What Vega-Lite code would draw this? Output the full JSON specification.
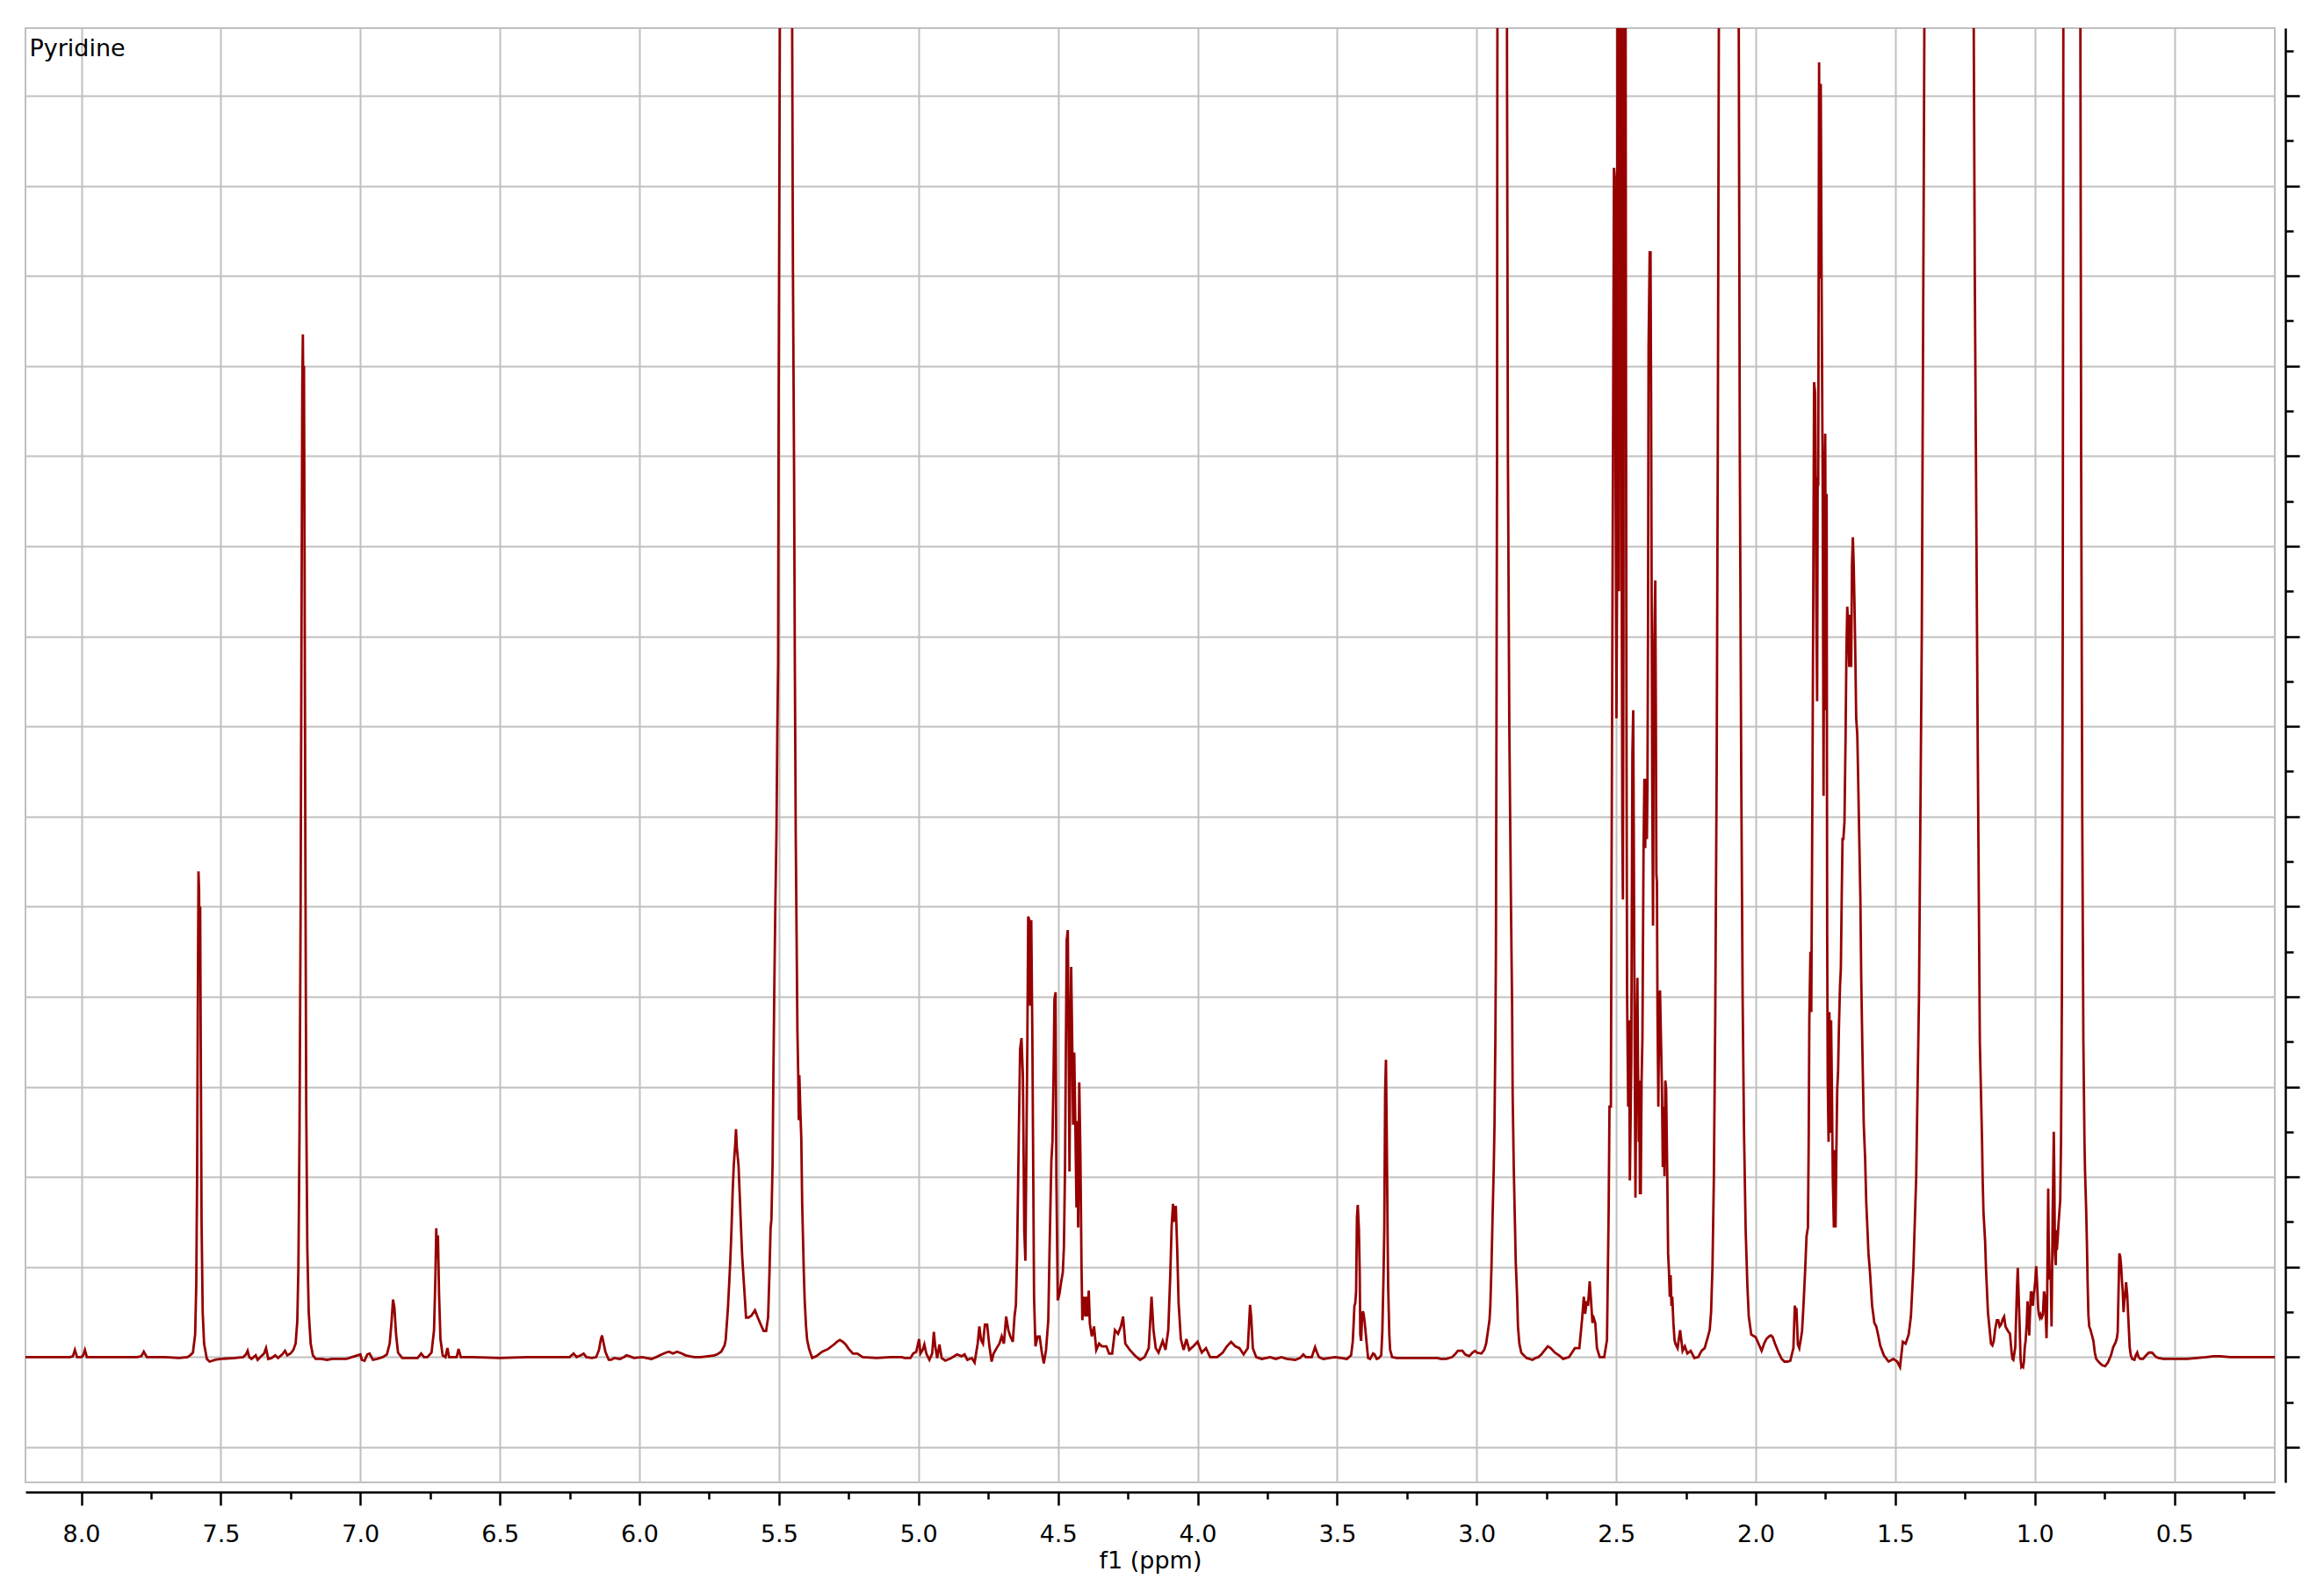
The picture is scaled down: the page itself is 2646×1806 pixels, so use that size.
{
"$schema": "https://vega.github.io/schema/vega-lite/v6.json",
"width": 2561, "height": 1656,
"autosize": {"type": "none"},
"padding": {"left": 29, "top": 32, "right": 56, "bottom": 118},
"background": "white",
"config": {"view": {"stroke": "#c0c0c0", "strokeWidth": 2}, "font": "DejaVu Sans"},
"layer": [
{"data": {"values": [
{"p":8.2,"v":0},{"p":8.1,"v":0},{"p":8.04,"v":0},{"p":8.03,"v":0.01},{"p":8.023,"v":0.08},{"p":8.015,"v":0},{"p":8.0,"v":0},{"p":7.993,"v":0.02},{"p":7.987,"v":0.08},{"p":7.98,"v":0},{"p":7.9,"v":0},{"p":7.8,"v":0},{"p":7.785,"v":0.01},{"p":7.776,"v":0.06},{"p":7.765,"v":0},{"p":7.7,"v":0},{"p":7.65,"v":-0.01},{"p":7.62,"v":0},{"p":7.61,"v":0.02},
{"p":7.6,"v":0.05},{"p":7.592,"v":0.25},{"p":7.588,"v":0.8},{"p":7.585,"v":2.0},{"p":7.582,"v":4.2},{"p":7.58,"v":5.39},{"p":7.578,"v":5.2},{"p":7.576,"v":4.4},{"p":7.574,"v":5.0},{"p":7.572,"v":3.5},{"p":7.569,"v":1.5},{"p":7.565,"v":0.5},{"p":7.56,"v":0.15},{"p":7.55,"v":-0.02},{"p":7.54,"v":-0.05},{"p":7.52,"v":-0.03},{"p":7.5,"v":-0.02},{"p":7.45,"v":-0.01},{"p":7.42,"v":0},{"p":7.41,"v":0.03},{"p":7.404,"v":0.07},{"p":7.398,"v":0},{"p":7.39,"v":-0.02},{"p":7.375,"v":0.02},{"p":7.368,"v":-0.03},{"p":7.355,"v":0.01},{"p":7.345,"v":0.04},{"p":7.338,"v":0.1},{"p":7.33,"v":-0.02},{"p":7.318,"v":-0.01},{"p":7.305,"v":0.02},{"p":7.295,"v":-0.01},{"p":7.28,"v":0.03},{"p":7.27,"v":0.07},{"p":7.262,"v":0.02},{"p":7.25,"v":0.04},{"p":7.24,"v":0.08},{"p":7.232,"v":0.15},{"p":7.226,"v":0.4},
{"p":7.222,"v":1.0},{"p":7.218,"v":2.5},{"p":7.214,"v":5.0},{"p":7.211,"v":8.0},{"p":7.208,"v":10.8},{"p":7.206,"v":11.35},{"p":7.204,"v":10.5},{"p":7.202,"v":11.0},{"p":7.2,"v":9.0},{"p":7.197,"v":5.5},{"p":7.194,"v":2.8},{"p":7.19,"v":1.2},{"p":7.185,"v":0.5},{"p":7.178,"v":0.15},{"p":7.17,"v":0.02},{"p":7.16,"v":-0.02},{"p":7.14,"v":-0.02},{"p":7.12,"v":-0.03},{"p":7.1,"v":-0.02},{"p":7.05,"v":-0.02},{"p":7.0,"v":0.03},{"p":6.995,"v":-0.03},{"p":6.985,"v":-0.04},{"p":6.975,"v":0.03},{"p":6.967,"v":0.04},{"p":6.955,"v":-0.03},{"p":6.94,"v":-0.02},{"p":6.92,"v":0},{"p":6.905,"v":0.03},{"p":6.895,"v":0.15},{"p":6.888,"v":0.4},{"p":6.883,"v":0.64},{"p":6.878,"v":0.55},{"p":6.872,"v":0.25},{"p":6.865,"v":0.05},{"p":6.85,"v":-0.01},{"p":6.82,"v":-0.01},{"p":6.795,"v":-0.01},{"p":6.782,"v":0.04},{"p":6.772,"v":0},{"p":6.76,"v":0},{"p":6.745,"v":0.05},{"p":6.736,"v":0.3},{"p":6.731,"v":0.9},{"p":6.728,"v":1.43},{"p":6.725,"v":1.1},{"p":6.722,"v":1.35},{"p":6.718,"v":0.7},{"p":6.713,"v":0.2},{"p":6.705,"v":0.02},{"p":6.695,"v":0},{"p":6.688,"v":0.1},{"p":6.682,"v":0},{"p":6.67,"v":0},{"p":6.655,"v":0},{"p":6.648,"v":0.09},{"p":6.64,"v":0},{"p":6.6,"v":0},{"p":6.5,"v":-0.01},{"p":6.4,"v":0},{"p":6.3,"v":0},{"p":6.25,"v":0},{"p":6.236,"v":0.04},{"p":6.225,"v":0},{"p":6.21,"v":0.02},{"p":6.2,"v":0.04},{"p":6.19,"v":0},{"p":6.17,"v":-0.01},{"p":6.155,"v":0},{"p":6.145,"v":0.08},{"p":6.138,"v":0.2},{"p":6.134,"v":0.24},{"p":6.13,"v":0.18},{"p":6.122,"v":0.06},{"p":6.11,"v":-0.03},{"p":6.101,"v":-0.03},{"p":6.09,"v":-0.01},{"p":6.07,"v":-0.02},{"p":6.055,"v":0},{"p":6.047,"v":0.02},{"p":6.035,"v":0.01},{"p":6.02,"v":-0.01},{"p":5.99,"v":0},{"p":5.975,"v":-0.01},{"p":5.957,"v":-0.02},{"p":5.94,"v":0},{"p":5.92,"v":0.03},{"p":5.905,"v":0.05},{"p":5.894,"v":0.06},{"p":5.88,"v":0.04},{"p":5.865,"v":0.06},{"p":5.848,"v":0.04},{"p":5.835,"v":0.02},{"p":5.82,"v":0.01},{"p":5.803,"v":0},{"p":5.78,"v":0},{"p":5.754,"v":0.01},{"p":5.731,"v":0.02},{"p":5.722,"v":0.03},{"p":5.707,"v":0.06},{"p":5.695,"v":0.13},{"p":5.691,"v":0.19},{"p":5.683,"v":0.54},{"p":5.678,"v":0.84},{"p":5.674,"v":1.1},{"p":5.67,"v":1.43},{"p":5.666,"v":1.83},{"p":5.662,"v":2.13},{"p":5.657,"v":2.35},{"p":5.654,"v":2.53},{"p":5.651,"v":2.33},{"p":5.648,"v":2.23},{"p":5.645,"v":2.13},{"p":5.641,"v":1.83},{"p":5.636,"v":1.43},{"p":5.632,"v":1.13},{"p":5.628,"v":0.93},{"p":5.623,"v":0.69},{"p":5.618,"v":0.44},{"p":5.609,"v":0.44},{"p":5.599,"v":0.46},{"p":5.586,"v":0.52},{"p":5.576,"v":0.44},{"p":5.565,"v":0.36},{"p":5.555,"v":0.29},{"p":5.546,"v":0.29},{"p":5.539,"v":0.44},{"p":5.534,"v":0.94},{"p":5.53,"v":1.43},{"p":5.527,"v":1.53},{"p":5.523,"v":2.13},{"p":5.52,"v":3.13},{"p":5.517,"v":4.02},{"p":5.513,"v":5.02},{"p":5.509,"v":5.82},{"p":5.506,"v":6.91},{"p":5.503,"v":7.71},{"p":5.501,"v":10.7},{"p":5.499,"v":12.6},{"p":5.497,"v":14.6},{"p":5.495,"v":17},{"p":5.47,"v":20},{"p":5.455,"v":17},{"p":5.45,"v":12.1},{"p":5.446,"v":9.9},{"p":5.443,"v":7.61},{"p":5.44,"v":5.82},{"p":5.437,"v":4.72},{"p":5.434,"v":3.63},{"p":5.431,"v":3.13},{"p":5.429,"v":2.63},{"p":5.427,"v":3.13},{"p":5.423,"v":2.7},{"p":5.42,"v":2.43},{"p":5.417,"v":1.73},{"p":5.414,"v":1.33},{"p":5.411,"v":0.94},{"p":5.408,"v":0.64},{"p":5.403,"v":0.34},{"p":5.399,"v":0.19},{"p":5.392,"v":0.09},{"p":5.381,"v":-0.01},{"p":5.366,"v":0.01},{"p":5.345,"v":0.06},{"p":5.324,"v":0.09},{"p":5.303,"v":0.14},{"p":5.292,"v":0.17},{"p":5.282,"v":0.19},{"p":5.271,"v":0.17},{"p":5.261,"v":0.14},{"p":5.25,"v":0.09},{"p":5.235,"v":0.04},{"p":5.219,"v":0.04},{"p":5.2,"v":0},{"p":5.15,"v":-0.01},{"p":5.1,"v":0},{"p":5.06,"v":0},
{"p":5.05,"v":-0.01},{"p":5.029,"v":-0.01},{"p":5.019,"v":0.04},{"p":5.008,"v":0.06},{"p":4.998,"v":0.2},{"p":4.993,"v":0.04},{"p":4.985,"v":0.08},{"p":4.979,"v":0.14},{"p":4.972,"v":0.04},{"p":4.961,"v":-0.03},{"p":4.951,"v":0.04},{"p":4.945,"v":0.28},{"p":4.94,"v":0.12},{"p":4.933,"v":-0.01},{"p":4.925,"v":0.14},{"p":4.917,"v":-0.01},{"p":4.904,"v":-0.04},{"p":4.883,"v":-0.01},{"p":4.862,"v":0.03},{"p":4.846,"v":0.01},{"p":4.835,"v":0.03},{"p":4.825,"v":-0.03},{"p":4.809,"v":-0.01},{"p":4.799,"v":-0.06},{"p":4.788,"v":0.15},{"p":4.782,"v":0.34},{"p":4.776,"v":0.19},{"p":4.769,"v":0.15},{"p":4.762,"v":0.36},{"p":4.754,"v":0.36},{"p":4.746,"v":0.12},{"p":4.738,"v":-0.05},{"p":4.731,"v":0.04},{"p":4.72,"v":0.1},{"p":4.71,"v":0.15},{"p":4.702,"v":0.23},{"p":4.694,"v":0.15},{"p":4.686,"v":0.45},{"p":4.678,"v":0.3},{"p":4.671,"v":0.23},{"p":4.662,"v":0.17},{"p":4.656,"v":0.45},{"p":4.651,"v":0.58},{"p":4.647,"v":1.1},{"p":4.643,"v":1.95},{"p":4.639,"v":2.8},{"p":4.636,"v":3.42},{"p":4.631,"v":3.54},{"p":4.626,"v":3.13},{"p":4.623,"v":2.1},{"p":4.621,"v":1.4},{"p":4.617,"v":1.07},{"p":4.614,"v":2.1},{"p":4.61,"v":3.5},{"p":4.607,"v":4.89},{"p":4.603,"v":4.85},{"p":4.6,"v":3.9},{"p":4.596,"v":4.85},{"p":4.592,"v":3.53},{"p":4.589,"v":2.1},{"p":4.586,"v":0.67},{"p":4.581,"v":0.12},{"p":4.573,"v":0.23},{"p":4.566,"v":0.23},{"p":4.558,"v":0.05},{"p":4.551,"v":-0.07},{"p":4.543,"v":0.08},{"p":4.535,"v":0.41},{"p":4.53,"v":1.26},{"p":4.524,"v":2.17},{"p":4.52,"v":2.4},{"p":4.516,"v":3.16},{"p":4.513,"v":3.97},{"p":4.509,"v":4.05},{"p":4.506,"v":1.99},{"p":4.501,"v":0.63},{"p":4.495,"v":0.7},{"p":4.488,"v":0.85},{"p":4.483,"v":0.94},{"p":4.479,"v":1.22},{"p":4.475,"v":2.1},{"p":4.472,"v":3.42},{"p":4.469,"v":4.63},{"p":4.465,"v":4.74},{"p":4.462,"v":3.46},{"p":4.459,"v":2.06},{"p":4.456,"v":3.46},{"p":4.453,"v":4.33},{"p":4.449,"v":3.46},{"p":4.446,"v":2.58},{"p":4.442,"v":3.38},{"p":4.438,"v":2.58},{"p":4.434,"v":1.66},{"p":4.431,"v":2.62},{"p":4.428,"v":1.44},{"p":4.424,"v":3.05},{"p":4.42,"v":2.28},{"p":4.416,"v":1.03},{"p":4.413,"v":0.41},{"p":4.407,"v":0.67},{"p":4.402,"v":0.45},{"p":4.398,"v":0.67},{"p":4.394,"v":0.45},{"p":4.39,"v":0.74},{"p":4.386,"v":0.37},{"p":4.379,"v":0.23},{"p":4.371,"v":0.34},{"p":4.363,"v":0.08},{"p":4.353,"v":0.15},{"p":4.343,"v":0.12},{"p":4.327,"v":0.12},{"p":4.317,"v":0.04},{"p":4.306,"v":0.04},{"p":4.296,"v":0.3},{"p":4.285,"v":0.26},{"p":4.275,"v":0.34},{"p":4.267,"v":0.45},{"p":4.259,"v":0.15},{"p":4.243,"v":0.08},{"p":4.222,"v":0.01},{"p":4.206,"v":-0.03},
{"p":4.19,"v":0},{"p":4.175,"v":0.1},{"p":4.165,"v":0.67},{"p":4.158,"v":0.3},{"p":4.15,"v":0.1},{"p":4.14,"v":0.05},{"p":4.125,"v":0.18},{"p":4.115,"v":0.08},{"p":4.105,"v":0.3},{"p":4.098,"v":0.9},{"p":4.093,"v":1.45},{"p":4.088,"v":1.7},{"p":4.083,"v":1.5},{"p":4.078,"v":1.68},{"p":4.073,"v":1.2},{"p":4.068,"v":0.6},{"p":4.06,"v":0.2},{"p":4.05,"v":0.08},{"p":4.04,"v":0.2},{"p":4.03,"v":0.08},{"p":4.015,"v":0.12},{"p":4.0,"v":0.17},{"p":3.985,"v":0.05},{"p":3.97,"v":0.1},{"p":3.955,"v":0},{"p":3.93,"v":0},{"p":3.91,"v":0.05},{"p":3.895,"v":0.12},{"p":3.88,"v":0.17},{"p":3.865,"v":0.12},{"p":3.85,"v":0.1},{"p":3.835,"v":0.03},{"p":3.82,"v":0.1},{"p":3.812,"v":0.58},{"p":3.808,"v":0.45},{"p":3.802,"v":0.1},{"p":3.79,"v":0},{"p":3.77,"v":-0.02},{"p":3.74,"v":0},{"p":3.72,"v":-0.02},{"p":3.7,"v":0},{"p":3.68,"v":-0.02},{"p":3.65,"v":-0.03},{"p":3.633,"v":-0.01},{"p":3.621,"v":0.03},{"p":3.612,"v":0},{"p":3.591,"v":0},{"p":3.579,"v":0.11},{"p":3.572,"v":0.05},{"p":3.565,"v":0},{"p":3.549,"v":-0.02},{"p":3.528,"v":-0.01},{"p":3.507,"v":0},{"p":3.486,"v":-0.01},{"p":3.465,"v":-0.02},{"p":3.45,"v":0.02},{"p":3.444,"v":0.17},{"p":3.441,"v":0.36},{"p":3.438,"v":0.57},{"p":3.435,"v":0.6},{"p":3.432,"v":0.73},{"p":3.429,"v":1.55},{"p":3.426,"v":1.69},{"p":3.422,"v":1.42},{"p":3.419,"v":0.93},{"p":3.417,"v":0.25},{"p":3.414,"v":0.18},{"p":3.411,"v":0.41},{"p":3.408,"v":0.51},{"p":3.405,"v":0.48},{"p":3.401,"v":0.38},{"p":3.398,"v":0.28},{"p":3.395,"v":0.18},{"p":3.392,"v":0.08},{"p":3.389,"v":-0.01},{"p":3.382,"v":-0.02},{"p":3.371,"v":0.04},{"p":3.366,"v":0.03},{"p":3.358,"v":-0.02},{"p":3.35,"v":-0.01},{"p":3.342,"v":0.02},{"p":3.338,"v":0.28},{"p":3.334,"v":0.86},{"p":3.331,"v":1.42},{"p":3.328,"v":2.94},{"p":3.325,"v":3.3},{"p":3.322,"v":2.42},{"p":3.319,"v":1.32},{"p":3.317,"v":0.77},{"p":3.313,"v":0.25},{"p":3.31,"v":0.08},{"p":3.303,"v":0},{"p":3.287,"v":-0.01},{"p":3.256,"v":-0.01},{"p":3.214,"v":-0.01},{"p":3.172,"v":-0.01},{"p":3.14,"v":-0.01},{"p":3.13,"v":-0.02},{"p":3.109,"v":-0.02},{"p":3.088,"v":0},{"p":3.078,"v":0.03},{"p":3.067,"v":0.07},{"p":3.051,"v":0.07},{"p":3.041,"v":0.03},{"p":3.027,"v":0.01},{"p":3.015,"v":0.05},{"p":3.006,"v":0.07},{"p":2.999,"v":0.05},{"p":2.983,"v":0.04},{"p":2.973,"v":0.08},{"p":2.966,"v":0.15},{"p":2.96,"v":0.28},{"p":2.954,"v":0.41},{"p":2.951,"v":0.57},{"p":2.947,"v":0.99},{"p":2.943,"v":1.55},{"p":2.939,"v":2.07},{"p":2.936,"v":2.59},{"p":2.933,"v":3.53},{"p":2.931,"v":4.5},{"p":2.929,"v":7},{"p":2.927,"v":10},{"p":2.926,"v":14},{"p":2.924,"v":18},{"p":2.905,"v":20},{"p":2.893,"v":18},{"p":2.891,"v":14},{"p":2.888,"v":10},{"p":2.883,"v":7},{"p":2.877,"v":5},{"p":2.873,"v":3.9},{"p":2.871,"v":2.91},{"p":2.867,"v":2.1},{"p":2.863,"v":1.51},{"p":2.86,"v":1.06},{"p":2.855,"v":0.67},{"p":2.852,"v":0.34},{"p":2.847,"v":0.15},{"p":2.84,"v":0.05},{"p":2.831,"v":0.02},{"p":2.821,"v":-0.01},{"p":2.81,"v":-0.02},{"p":2.8,"v":-0.03},{"p":2.789,"v":-0.01},{"p":2.779,"v":0},{"p":2.768,"v":0.03},{"p":2.758,"v":0.07},{"p":2.745,"v":0.12},{"p":2.735,"v":0.1},{"p":2.72,"v":0.05},{"p":2.705,"v":0.02},
{"p":2.69,"v":-0.02},{"p":2.669,"v":0},{"p":2.648,"v":0.1},{"p":2.632,"v":0.1},{"p":2.622,"v":0.43},{"p":2.616,"v":0.67},{"p":2.611,"v":0.48},{"p":2.606,"v":0.62},{"p":2.601,"v":0.57},{"p":2.595,"v":0.84},{"p":2.59,"v":0.62},{"p":2.585,"v":0.38},{"p":2.58,"v":0.43},{"p":2.575,"v":0.38},{"p":2.569,"v":0.1},{"p":2.559,"v":0},{"p":2.543,"v":0},{"p":2.533,"v":0.19},{"p":2.527,"v":1.63},{"p":2.524,"v":2.78},{"p":2.519,"v":2.78},{"p":2.517,"v":4.98},{"p":2.512,"v":9.58},{"p":2.508,"v":13.2},{"p":2.505,"v":13.1},{"p":2.502,"v":9.58},{"p":2.499,"v":7.09},{"p":2.497,"v":8.62},{"p":2.495,"v":17},{"p":2.492,"v":17},{"p":2.49,"v":8.5},{"p":2.485,"v":17},{"p":2.482,"v":17},{"p":2.48,"v":8.43},{"p":2.478,"v":5.84},{"p":2.476,"v":5.08},{"p":2.474,"v":8.05},{"p":2.472,"v":17},{"p":2.467,"v":17},{"p":2.465,"v":11.1},{"p":2.463,"v":6.8},{"p":2.461,"v":4.02},{"p":2.457,"v":2.78},{"p":2.454,"v":3.74},{"p":2.451,"v":1.96},{"p":2.446,"v":3.26},{"p":2.444,"v":4.98},{"p":2.442,"v":6.7},{"p":2.439,"v":7.18},{"p":2.437,"v":5.84},{"p":2.434,"v":3.54},{"p":2.431,"v":1.77},{"p":2.428,"v":3.26},{"p":2.424,"v":4.21},{"p":2.422,"v":3.26},{"p":2.419,"v":2.39},{"p":2.417,"v":3.07},{"p":2.415,"v":1.82},{"p":2.412,"v":1.82},{"p":2.409,"v":3.07},{"p":2.406,"v":3.54},{"p":2.402,"v":5.65},{"p":2.399,"v":6.42},{"p":2.396,"v":5.65},{"p":2.393,"v":6.42},{"p":2.39,"v":5.75},{"p":2.388,"v":6.32},{"p":2.386,"v":8.05},{"p":2.384,"v":11.2},{"p":2.38,"v":12.26},{"p":2.377,"v":12.26},{"p":2.375,"v":10.7},{"p":2.373,"v":8.5},{"p":2.371,"v":6.42},{"p":2.368,"v":4.79},{"p":2.366,"v":6.9},{"p":2.364,"v":7.85},{"p":2.36,"v":8.62},{"p":2.358,"v":7.28},{"p":2.356,"v":5.36},{"p":2.354,"v":5.27},{"p":2.352,"v":3.83},{"p":2.349,"v":2.78},{"p":2.346,"v":3.93},{"p":2.343,"v":4.07},{"p":2.339,"v":3.45},{"p":2.336,"v":2.97},{"p":2.333,"v":2.11},{"p":2.33,"v":2.78},{"p":2.327,"v":2.01},{"p":2.324,"v":3.07},{"p":2.321,"v":2.97},{"p":2.317,"v":2.01},{"p":2.314,"v":1.15},{"p":2.311,"v":0.96},{"p":2.308,"v":0.67},{"p":2.305,"v":0.91},{"p":2.302,"v":0.57},{"p":2.299,"v":0.67},{"p":2.295,"v":0.38},{"p":2.291,"v":0.19},{"p":2.288,"v":0.15},{"p":2.28,"v":0.1},{"p":2.271,"v":0.3},{"p":2.262,"v":0.07},{"p":2.254,"v":0.12},{"p":2.245,"v":0.04},{"p":2.233,"v":0.07},{"p":2.22,"v":-0.01},{"p":2.206,"v":0},{"p":2.194,"v":0.07},{"p":2.183,"v":0.1},{"p":2.172,"v":0.22},{"p":2.165,"v":0.3},{"p":2.16,"v":0.5},{"p":2.155,"v":1.0},{"p":2.15,"v":2.0},{"p":2.145,"v":3.8},{"p":2.14,"v":6.5},{"p":2.136,"v":10},{"p":2.132,"v":15},{"p":2.129,"v":19},{"p":2.1,"v":21},{"p":2.065,"v":19},{"p":2.061,"v":15},{"p":2.057,"v":10},{"p":2.052,"v":6.5},{"p":2.047,"v":4},{"p":2.042,"v":2.5},{"p":2.036,"v":1.4},{"p":2.03,"v":0.8},{"p":2.025,"v":0.45},{"p":2.016,"v":0.25},{"p":2.0,"v":0.22},{"p":1.99,"v":0.15},{"p":1.979,"v":0.07},{"p":1.97,"v":0.15},{"p":1.962,"v":0.2},{"p":1.952,"v":0.23},{"p":1.945,"v":0.24},{"p":1.939,"v":0.22},{"p":1.931,"v":0.15},{"p":1.918,"v":0.05},{"p":1.907,"v":-0.02},{"p":1.897,"v":-0.05},{"p":1.886,"v":-0.05},{"p":1.876,"v":-0.04},{"p":1.865,"v":0.1},{"p":1.86,"v":0.57},{"p":1.857,"v":0.53},{"p":1.854,"v":0.53},{"p":1.849,"v":0.14},{"p":1.844,"v":0.1},{"p":1.839,"v":0.19},{"p":1.834,"v":0.29},{"p":1.829,"v":0.57},{"p":1.823,"v":0.96},{"p":1.818,"v":1.34},{"p":1.813,"v":1.44},{"p":1.81,"v":2.49},{"p":1.808,"v":3.74},{"p":1.804,"v":4.5},{"p":1.801,"v":3.83},{"p":1.797,"v":6.23},{"p":1.794,"v":8.33},{"p":1.791,"v":10.82},{"p":1.787,"v":10.7},{"p":1.783,"v":8.33},{"p":1.78,"v":7.28},{"p":1.778,"v":9.77},{"p":1.776,"v":9.67},{"p":1.773,"v":14.37},{"p":1.77,"v":11.97},{"p":1.767,"v":14.13},{"p":1.764,"v":11.97},{"p":1.76,"v":9.58},{"p":1.757,"v":6.23},{"p":1.754,"v":9.58},{"p":1.751,"v":10.25},{"p":1.748,"v":7.18},{"p":1.746,"v":9.58},{"p":1.744,"v":4.69},{"p":1.742,"v":3.07},{"p":1.739,"v":2.39},{"p":1.736,"v":3.83},{"p":1.733,"v":2.49},{"p":1.73,"v":3.74},{"p":1.727,"v":2.97},{"p":1.724,"v":2.01},{"p":1.72,"v":1.44},{"p":1.717,"v":2.3},{"p":1.714,"v":1.44},{"p":1.711,"v":2.3},{"p":1.708,"v":2.97},{"p":1.705,"v":3.16},{"p":1.702,"v":3.64},{"p":1.698,"v":4.12},{"p":1.695,"v":4.31},{"p":1.692,"v":5.08},{"p":1.689,"v":5.75},{"p":1.686,"v":5.75},{"p":1.682,"v":5.94},{"p":1.678,"v":6.9},{"p":1.675,"v":7.85},{"p":1.672,"v":8.33},{"p":1.668,"v":8.05},{"p":1.665,"v":7.66},{"p":1.662,"v":8.24},{"p":1.658,"v":7.66},{"p":1.655,"v":8.81},{"p":1.652,"v":9.1},{"p":1.649,"v":8.81},{"p":1.646,"v":8.33},{"p":1.643,"v":7.76},{"p":1.64,"v":7.09},{"p":1.636,"v":6.9},{"p":1.633,"v":6.42},{"p":1.629,"v":5.75},{"p":1.625,"v":5.08},{"p":1.622,"v":4.21},{"p":1.618,"v":3.45},{"p":1.613,"v":2.59},{"p":1.608,"v":2.2},{"p":1.604,"v":1.72},{"p":1.6,"v":1.44},{"p":1.596,"v":1.15},{"p":1.591,"v":0.96},{"p":1.587,"v":0.77},{"p":1.583,"v":0.57},{"p":1.579,"v":0.48},{"p":1.575,"v":0.38},{"p":1.568,"v":0.34},{"p":1.561,"v":0.24},{"p":1.554,"v":0.13},{"p":1.541,"v":0.02},{"p":1.524,"v":-0.05},{"p":1.507,"v":-0.02},{"p":1.493,"v":-0.05},{"p":1.483,"v":-0.11},{"p":1.473,"v":0.17},{"p":1.463,"v":0.15},{"p":1.452,"v":0.25},{"p":1.444,"v":0.45},{"p":1.435,"v":1.0},{"p":1.425,"v":2.0},{"p":1.415,"v":4.0},{"p":1.405,"v":8},{"p":1.398,"v":13},{"p":1.393,"v":17},{"p":1.3,"v":20},{"p":1.222,"v":17},{"p":1.215,"v":12},{"p":1.205,"v":7},{"p":1.197,"v":3.5},{"p":1.189,"v":2.39},{"p":1.187,"v":2.0},{"p":1.184,"v":1.61},{"p":1.178,"v":1.28},{"p":1.175,"v":0.99},{"p":1.172,"v":0.78},{"p":1.168,"v":0.5},{"p":1.163,"v":0.34},{"p":1.157,"v":0.15},{"p":1.152,"v":0.13},{"p":1.147,"v":0.18},{"p":1.142,"v":0.31},{"p":1.136,"v":0.41},{"p":1.131,"v":0.41},{"p":1.126,"v":0.34},{"p":1.121,"v":0.36},{"p":1.115,"v":0.42},{"p":1.11,"v":0.45},{"p":1.105,"v":0.34},{"p":1.1,"v":0.31},{"p":1.094,"v":0.28},{"p":1.089,"v":0.26},{"p":1.086,"v":0.15},{"p":1.083,"v":0.05},{"p":1.08,"v":-0.02},{"p":1.077,"v":-0.03},{"p":1.073,"v":0.05},{"p":1.07,"v":0.11},{"p":1.067,"v":0.44},{"p":1.064,"v":0.76},{"p":1.061,"v":0.99},{"p":1.058,"v":0.7},{"p":1.055,"v":0.41},{"p":1.051,"v":-0.02},{"p":1.048,"v":-0.11},{"p":1.045,"v":-0.1},{"p":1.042,"v":-0.11},{"p":1.039,"v":-0.05},{"p":1.036,"v":0.11},{"p":1.033,"v":0.18},{"p":1.029,"v":0.37},{"p":1.026,"v":0.62},{"p":1.023,"v":0.44},{"p":1.02,"v":0.24},{"p":1.017,"v":0.5},{"p":1.014,"v":0.73},{"p":1.01,"v":0.7},{"p":1.007,"v":0.57},{"p":1.004,"v":0.7},{"p":1.001,"v":0.76},{"p":0.998,"v":0.86},{"p":0.995,"v":1.01},{"p":0.992,"v":0.83},{"p":0.988,"v":0.54},{"p":0.985,"v":0.47},{"p":0.982,"v":0.44},{"p":0.979,"v":0.47},{"p":0.975,"v":0.44},{"p":0.971,"v":0.47},{"p":0.967,"v":0.73},{"p":0.964,"v":0.67},{"p":0.961,"v":0.47},{"p":0.958,"v":0.21},{"p":0.956,"v":0.57},{"p":0.954,"v":1.22},{"p":0.952,"v":1.87},{"p":0.95,"v":1.25},{"p":0.946,"v":0.86},{"p":0.943,"v":0.96},{"p":0.94,"v":0.34},{"p":0.938,"v":0.93},{"p":0.936,"v":1.61},{"p":0.934,"v":2.0},{"p":0.932,"v":2.5},{"p":0.93,"v":2.0},{"p":0.928,"v":1.15},{"p":0.925,"v":1.02},{"p":0.923,"v":1.41},{"p":0.921,"v":1.19},{"p":0.918,"v":1.32},{"p":0.915,"v":1.48},{"p":0.912,"v":1.61},{"p":0.909,"v":1.74},{"p":0.906,"v":2.4},{"p":0.903,"v":4},{"p":0.9,"v":8},{"p":0.897,"v":17},{"p":0.87,"v":20},{"p":0.838,"v":17},{"p":0.834,"v":10},{"p":0.83,"v":6},{"p":0.826,"v":3.5},{"p":0.822,"v":2.39},{"p":0.82,"v":2.06},{"p":0.816,"v":1.64},{"p":0.813,"v":1.22},{"p":0.811,"v":0.86},{"p":0.808,"v":0.47},{"p":0.805,"v":0.34},{"p":0.801,"v":0.31},{"p":0.795,"v":0.24},{"p":0.79,"v":0.18},{"p":0.785,"v":0.05},{"p":0.78,"v":-0.02},{"p":0.769,"v":-0.06},{"p":0.759,"v":-0.09},{"p":0.748,"v":-0.1},{"p":0.738,"v":-0.06},{"p":0.727,"v":0.02},{"p":0.719,"v":0.11},{"p":0.711,"v":0.16},{"p":0.706,"v":0.21},{"p":0.703,"v":0.28},{"p":0.7,"v":0.73},{"p":0.697,"v":1.15},{"p":0.694,"v":1.12},{"p":0.691,"v":1.02},{"p":0.688,"v":0.86},{"p":0.685,"v":0.73},{"p":0.682,"v":0.5},{"p":0.679,"v":0.63},{"p":0.676,"v":0.7},{"p":0.673,"v":0.83},{"p":0.669,"v":0.7},{"p":0.666,"v":0.5},{"p":0.663,"v":0.31},{"p":0.66,"v":0.11},{"p":0.656,"v":0.02},{"p":0.651,"v":-0.02},{"p":0.643,"v":-0.03},{"p":0.638,"v":0.02},{"p":0.633,"v":0.05},{"p":0.628,"v":0},{"p":0.622,"v":-0.02},{"p":0.612,"v":-0.02},{"p":0.601,"v":0.02},{"p":0.591,"v":0.05},{"p":0.58,"v":0.05},{"p":0.565,"v":0},{"p":0.556,"v":-0.01},{"p":0.54,"v":-0.02},{"p":0.505,"v":-0.02},{"p":0.454,"v":-0.02},{"p":0.42,"v":-0.01},{"p":0.386,"v":0},{"p":0.36,"v":0.01},{"p":0.335,"v":0.01},{"p":0.3,"v":0},{"p":0.25,"v":0},{"p":0.2,"v":0},{"p":0.14,"v":0}
]},
"mark": {"type": "line", "color": "#960000", "strokeWidth": 2.8, "clip": true, "interpolate": "linear"},
"encoding": {
"x": {"field": "p", "type": "quantitative",
 "scale": {"domain": [0.14, 8.2], "reverse": true, "nice": false, "zero": false},
 "axis": {"title": "f1 (ppm)",
  "values": [0.25,0.5,0.75,1.0,1.25,1.5,1.75,2.0,2.25,2.5,2.75,3.0,3.25,3.5,3.75,4.0,4.25,4.5,4.75,5.0,5.25,5.5,5.75,6.0,6.25,6.5,6.75,7.0,7.25,7.5,7.75,8.0],
  "labelExpr": "datum.value % 0.5 === 0 ? format(datum.value, '.1f') : ''",
  "offset": 11, "domainColor": "black", "domainWidth": 2.5,
  "tickColor": "black", "tickWidth": 2.5,
  "tickSize": {"condition": {"test": "datum.value % 0.5 === 0", "value": 15}, "value": 8},
  "grid": true, "gridColor": "#c0c0c0", "gridWidth": 2,
  "gridOpacity": {"condition": {"test": "datum.value % 0.5 === 0", "value": 1}, "value": 0},
  "labelFont": "DejaVu Sans", "labelFontSize": 27, "labelColor": "black", "labelPadding": 20,
  "labelFlush": false, "labelOverlap": false, "labelBound": false,
  "titleFont": "DejaVu Sans", "titleFontSize": 27, "titleFontWeight": "normal", "titleColor": "black", "titlePadding": 4}},
"y": {"field": "v", "type": "quantitative",
 "scale": {"domain": [-1.39, 14.75], "nice": false, "zero": false},
 "axis": {"orient": "right", "title": null, "labels": false,
  "values": [-1,-0.5,0,0.5,1,1.5,2,2.5,3,3.5,4,4.5,5,5.5,6,6.5,7,7.5,8,8.5,9,9.5,10,10.5,11,11.5,12,12.5,13,13.5,14,14.5],
  "offset": 12, "domainColor": "black", "domainWidth": 2.5,
  "tickColor": "black", "tickWidth": 2.5,
  "tickSize": {"condition": {"test": "datum.value % 1 === 0", "value": 16}, "value": 9},
  "grid": true, "gridColor": "#c0c0c0", "gridWidth": 2,
  "gridOpacity": {"condition": {"test": "datum.value % 1 === 0", "value": 1}, "value": 0}}}
}},
{"data": {"values": [{"label": "Pyridine", "p": 8.186, "v": 14.44}]},
 "mark": {"type": "text", "align": "left", "baseline": "alphabetic", "font": "DejaVu Sans", "fontSize": 27, "color": "black"},
 "encoding": {"x": {"field": "p", "type": "quantitative"}, "y": {"field": "v", "type": "quantitative"}, "text": {"field": "label"}}}
]
}
